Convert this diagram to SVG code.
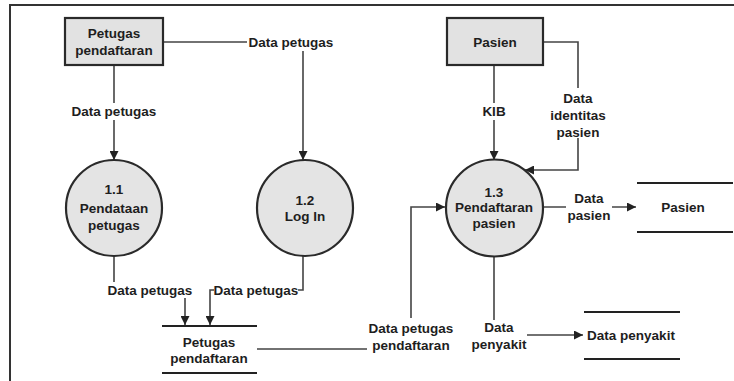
<svg xmlns="http://www.w3.org/2000/svg" width="734" height="381" viewBox="0 0 734 381">
  <style>
    text { font-family: "Liberation Sans", Arial, sans-serif; font-weight: bold; font-size: 13.5px; fill: #1e1e1e; text-anchor: middle; }
    .ent { fill: #e2e2e2; stroke: #2a2a2a; stroke-width: 2.2; }
    .proc { fill: #e4e4e4; stroke: #2a2a2a; stroke-width: 2.2; }
    .store { stroke: #222; stroke-width: 2; }
    .flow { fill: none; stroke: #444; stroke-width: 1.6; }
    .bg { fill: #fff; }
    .frame { stroke: #333; stroke-width: 2; fill: none; }
  </style>
  <defs>
    <marker id="arrow" markerUnits="userSpaceOnUse" markerWidth="9" markerHeight="9" refX="9" refY="4.5" orient="auto">
      <path d="M0,0 L9,4.5 L0,9 z" fill="#222"/>
    </marker>
  </defs>
  <rect width="734" height="381" fill="#fff"/>
  <path class="frame" d="M10,381 V5 H734"/>

  <!-- data flows -->
  <g id="connectors">
    <path class="flow" d="M163,42 H303 V160" marker-end="url(#arrow)"/>
    <path class="flow" d="M114,65 V160" marker-end="url(#arrow)"/>
    <path class="flow" d="M114,256 V290 H185 V325" marker-end="url(#arrow)"/>
    <path class="flow" d="M303,256 V290 H210 V325" marker-end="url(#arrow)"/>
    <path class="flow" d="M257,349 H411 V207 H445" marker-end="url(#arrow)"/>
    <path class="flow" d="M494,65 V160" marker-end="url(#arrow)"/>
    <path class="flow" d="M543,42 H578 V170 H525" marker-end="url(#arrow)"/>
    <path class="flow" d="M543,207 H636" marker-end="url(#arrow)"/>
    <path class="flow" d="M494,256 V335 H583" marker-end="url(#arrow)"/>

    <rect class="bg" x="247" y="34" width="88" height="17"/>
    <text x="291" y="47">Data petugas</text>
    <rect class="bg" x="70" y="103" width="88" height="17"/>
    <text x="114" y="116">Data petugas</text>
    <rect class="bg" x="106" y="282" width="88" height="16"/>
    <text x="150" y="295">Data petugas</text>
    <rect class="bg" x="214" y="282" width="84" height="16"/>
    <text x="256" y="295">Data petugas</text>
    <rect class="bg" x="367" y="318" width="88" height="33"/>
    <text x="411" y="333">Data petugas</text>
    <text x="411" y="350">pendaftaran</text>
    <rect class="bg" x="480" y="103" width="28" height="17"/>
    <text x="494" y="116">KIB</text>
    <rect class="bg" x="550" y="88" width="56" height="50"/>
    <text x="578" y="103">Data</text>
    <text x="578" y="120">identitas</text>
    <text x="578" y="137">pasien</text>
    <rect class="bg" x="566" y="190" width="46" height="33"/>
    <text x="589" y="203">Data</text>
    <text x="589" y="220">pasien</text>
    <rect class="bg" x="471" y="320" width="56" height="33"/>
    <text x="499" y="332">Data</text>
    <text x="499" y="349">penyakit</text>
  </g>

  <!-- external entities -->
  <g id="ent-petugas">
    <rect class="ent" x="65" y="18" width="98" height="47"/>
    <text x="114" y="38">Petugas</text>
    <text x="114" y="55">pendaftaran</text>
  </g>
  <g id="ent-pasien">
    <rect class="ent" x="447" y="18" width="96" height="47"/>
    <text x="495" y="47">Pasien</text>
  </g>

  <!-- processes -->
  <g id="proc-1-1">
    <circle class="proc" cx="114" cy="208" r="48"/>
    <text x="114" y="194">1.1</text>
    <text x="114" y="213">Pendataan</text>
    <text x="114" y="230">petugas</text>
  </g>
  <g id="proc-1-2">
    <circle class="proc" cx="305" cy="208" r="48"/>
    <text x="305" y="205">1.2</text>
    <text x="305" y="221">Log In</text>
  </g>
  <g id="proc-1-3">
    <circle class="proc" cx="494.5" cy="208" r="48.5"/>
    <text x="494" y="197">1.3</text>
    <text x="494" y="212">Pendaftaran</text>
    <text x="494" y="228">pasien</text>
  </g>

  <!-- data stores -->
  <g id="store-petugas">
    <line class="store" x1="162" y1="326" x2="257" y2="326"/>
    <line class="store" x1="162" y1="373" x2="257" y2="373"/>
    <text x="209" y="347">Petugas</text>
    <text x="209" y="363">pendaftaran</text>
  </g>
  <g id="store-pasien">
    <line class="store" x1="637" y1="183" x2="733" y2="183"/>
    <line class="store" x1="637" y1="232" x2="733" y2="232"/>
    <text x="683" y="212">Pasien</text>
  </g>
  <g id="store-penyakit">
    <line class="store" x1="584" y1="312" x2="680" y2="312"/>
    <line class="store" x1="584" y1="359" x2="680" y2="359"/>
    <text x="631" y="340">Data penyakit</text>
  </g>
</svg>
